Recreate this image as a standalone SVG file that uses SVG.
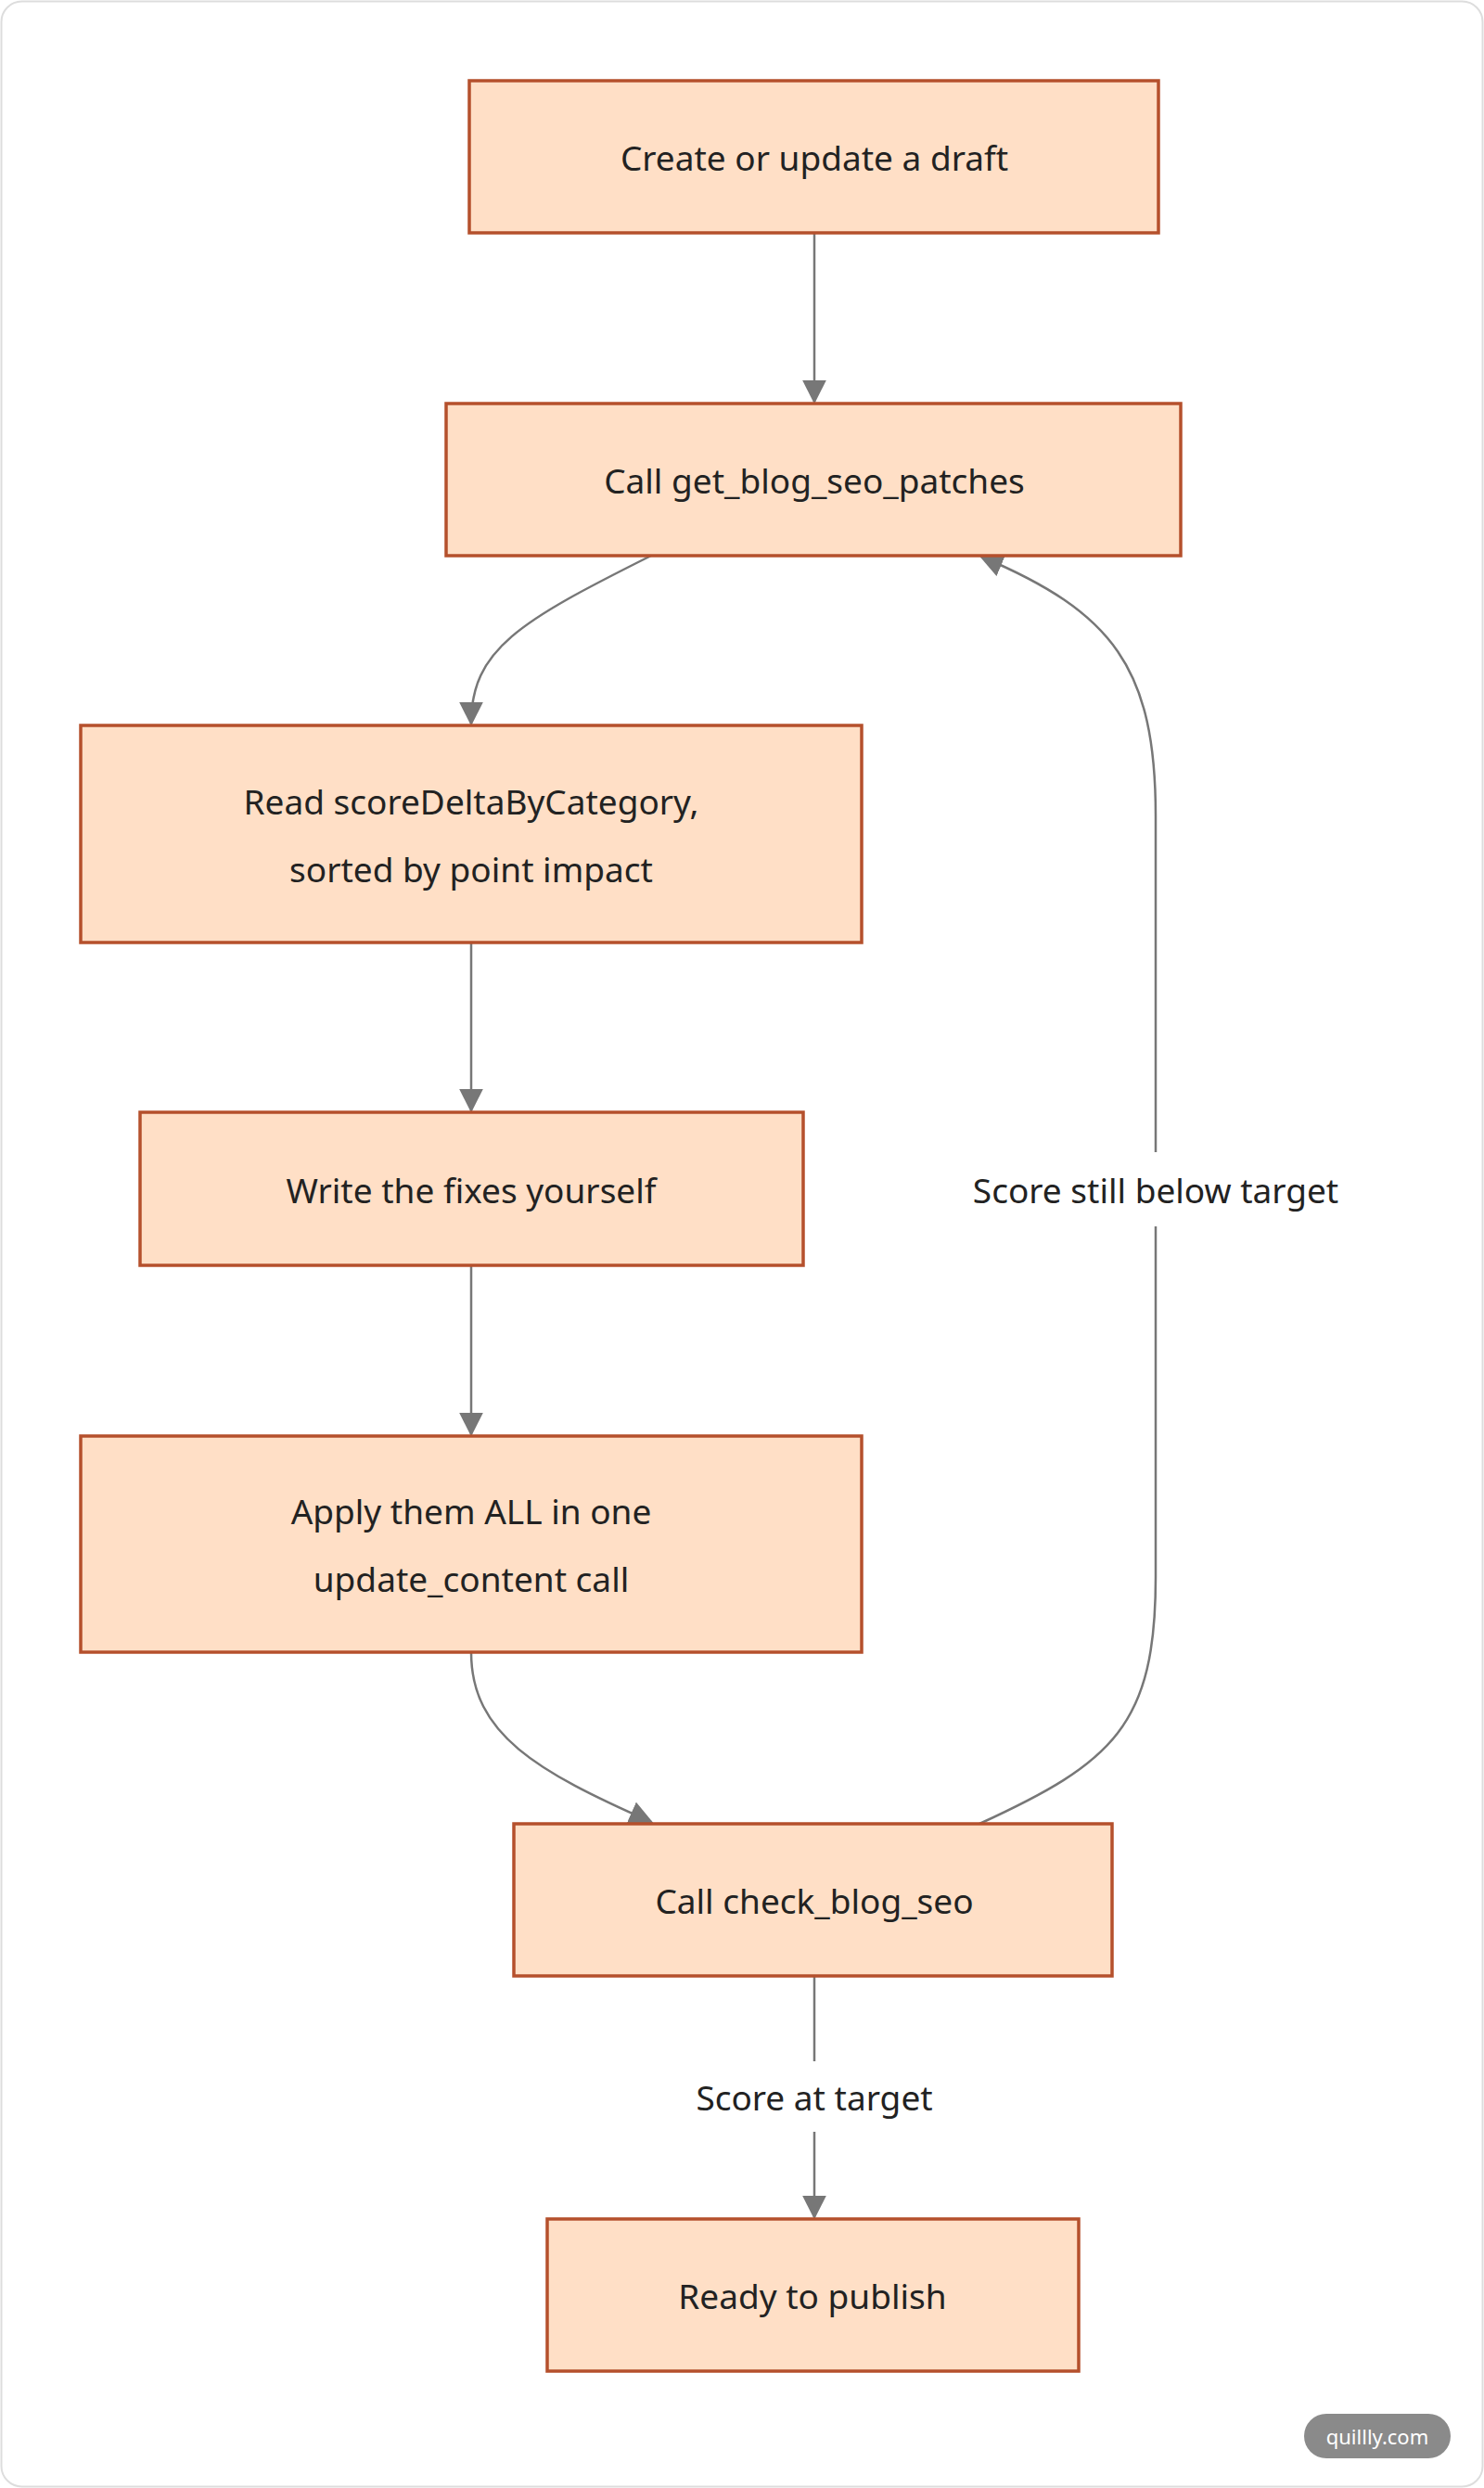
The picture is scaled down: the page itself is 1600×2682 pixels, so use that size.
<svg xmlns="http://www.w3.org/2000/svg" width="1600" height="2682" viewBox="0 0 1600 2682">
<style>
.n rect{fill:#ffdfc6;stroke:#b5502c;stroke-width:3.5}
text{font-family:"Noto Sans","Open Sans",sans-serif;font-size:37px;fill:#222;text-anchor:middle;dominant-baseline:central}
.e path{fill:none;stroke:#777;stroke-width:2.5;marker-end:url(#a)}
</style>
<defs><marker id="a" viewBox="0 0 10 10" refX="9" refY="5" markerWidth="10" markerHeight="10" markerUnits="userSpaceOnUse" orient="auto"><path d="M0,0L10,5L0,10z" fill="#777"/></marker>
<marker id="a2" viewBox="0 0 10 10" refX="9" refY="5" markerWidth="26" markerHeight="26" markerUnits="userSpaceOnUse" orient="auto"><path d="M0,0L10,5L0,10z" fill="#777"/></marker></defs>
<rect x="1.5" y="1.5" width="1597" height="2679" rx="22" fill="#fff" stroke="#ddd" stroke-width="2"/>
<g class="e" id="edges">
<path d="M878,251V433" style="marker-end:url(#a2)"/>
<path d="M702,599C560,670 508,700 508,780" style="marker-end:url(#a2)"/>
<path d="M508,1016V1197" style="marker-end:url(#a2)"/>
<path d="M508,1364V1546" style="marker-end:url(#a2)"/>
<path d="M508,1781C508,1870 580,1910 702,1964" style="marker-end:url(#a2)"/>
<path d="M1056,1966C1200,1900 1246,1860 1246,1700L1246,880C1246,720 1200,660 1058,600" style="marker-end:url(#a2)"/>
<path d="M878,2130V2390" style="marker-end:url(#a2)"/>
<rect x="975" y="1242" width="542" height="80" fill="#fff"/>
<text x="1246" y="1282">Score still below target</text>
<rect x="700" y="2222" width="356" height="76" fill="#fff"/>
<text x="878" y="2260">Score at target</text>
</g>
<g class="n" id="n1"><rect x="506" y="87" width="743" height="164"/><text x="878" y="169">Create or update a draft</text></g>
<g class="n" id="n2"><rect x="481" y="435" width="792" height="164"/><text x="878" y="517">Call get_blog_seo_patches</text></g>
<g class="n" id="n3"><rect x="87" y="782" width="842" height="234"/><text x="508" y="863">Read scoreDeltaByCategory,</text><text x="508" y="936">sorted by point impact</text></g>
<g class="n" id="n4"><rect x="151" y="1199" width="715" height="165"/><text x="508" y="1282">Write the fixes yourself</text></g>
<g class="n" id="n5"><rect x="87" y="1548" width="842" height="233"/><text x="508" y="1628">Apply them ALL in one</text><text x="508" y="1701">update_content call</text></g>
<g class="n" id="n6"><rect x="554" y="1966" width="645" height="164"/><text x="878" y="2048">Call check_blog_seo</text></g>
<g class="n" id="n7"><rect x="590" y="2392" width="573" height="164"/><text x="876" y="2474">Ready to publish</text></g>
<g id="wm"><rect x="1406" y="2602" width="158" height="48" rx="24" fill="#8a8a8a"/><text x="1485" y="2626" style="font-size:22px;fill:#fff">quillly.com</text></g>
</svg>
